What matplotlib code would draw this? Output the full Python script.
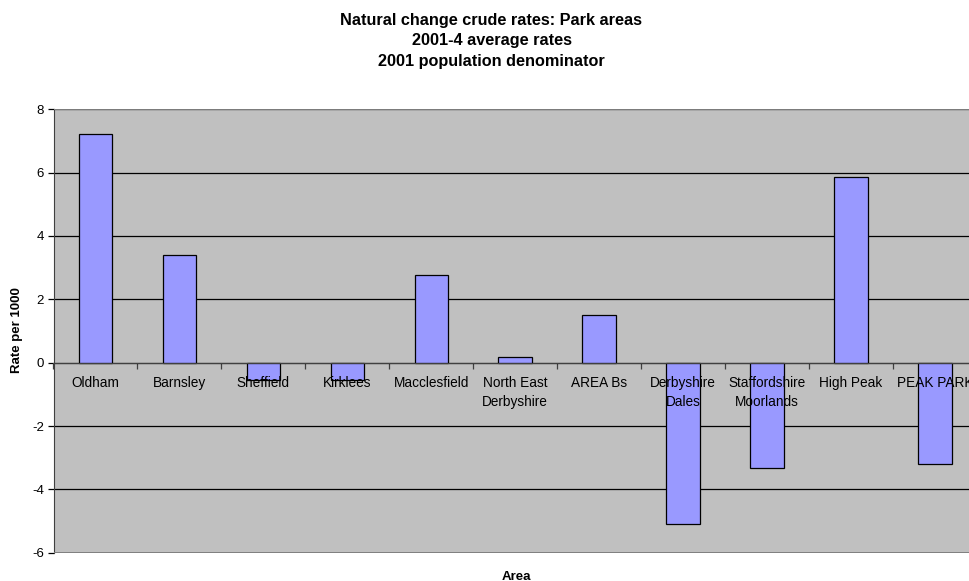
import matplotlib
matplotlib.use("Agg")
import matplotlib.pyplot as plt
import numpy as np

plt.rcParams['font.family'] = ['Liberation Sans', 'DejaVu Sans']

# natural change crude rates per 1000, 2001-4 averages
areas = ['Oldham', 'Barnsley', 'Sheffield', 'Kirklees', 'Macclesfield',
         'North East\nDerbyshire', 'AREA Bs', 'Derbyshire\nDales',
         'Staffordshire\nMoorlands', 'High Peak', 'PEAK PARK']
rates = [7.23, 3.41, -0.55, -0.55, 2.77, 0.17, 1.51, -5.08, -3.33, 5.87, -3.20]
yticks = [-6, -4, -2, 0, 2, 4, 6, 8]

W, H = 969, 581
fig = plt.figure(figsize=(W / 100, H / 100), dpi=100)
fig.patch.set_facecolor('white')

# plot area runs off the right edge, as in the exported chart
left, right, top, bottom = 53.5, 977.0, 109.3, 552.7
ax = fig.add_axes([left / W, 1 - bottom / H, (right - left) / W, (bottom - top) / H])
ax.set_facecolor('#C0C0C0')
ax.set_axisbelow(True)

x = np.arange(len(areas))
ax.bar(x, rates, width=0.4, color='#9999FF', edgecolor='black', linewidth=0.9, zorder=2)

ax.set_xlim(-0.5, len(areas) - 0.5)
ax.set_ylim(-6, 8)
ax.set_yticks(yticks)
ax.set_yticklabels([str(v) for v in yticks], fontsize=9.5)
ax.yaxis.grid(True, color='black', linewidth=0.9)
ax.tick_params(axis='y', direction='out', length=4, width=0.9, pad=3)

# category axis sits on the zero line
ax.spines['bottom'].set_position(('data', 0))
ax.spines['bottom'].set_color('#404040')
ax.spines['bottom'].set_zorder(3)
ax.set_xticks(np.arange(len(areas) + 1) - 0.5)
ax.set_xticklabels([])
ax.tick_params(axis='x', direction='out', length=4, width=0.9, color='#404040')
ax.spines['left'].set_color('#404040')
ax.spines['right'].set_visible(False)
ax.spines['top'].set_visible(False)

# plot area border
for yb in (8, -6):
    ax.axhline(yb, color='#808080', linewidth=1.4, zorder=3)

for xi, name in zip(x, areas):
    ax.annotate(name, (xi, 0), xytext=(0, -9.5), textcoords='offset points',
                ha='center', va='top', fontsize=9.8, linespacing=1.5, zorder=4)

fig.text(491.5 / W, 1 - 41 / H,
         'Natural change crude rates: Park areas\n2001-4 average rates\n2001 population denominator',
         ha='center', va='center', fontsize=11.7, fontweight='bold', linespacing=1.42)
fig.text(17 / W, 1 - 330 / H, 'Rate per 1000', rotation=90, ha='center', va='center',
         fontsize=9.5, fontweight='bold')
fig.text(516 / W, 1 - 576.5 / H, 'Area', ha='center', va='center', fontsize=9.5, fontweight='bold')

fig.savefig('out.png', dpi=100)
